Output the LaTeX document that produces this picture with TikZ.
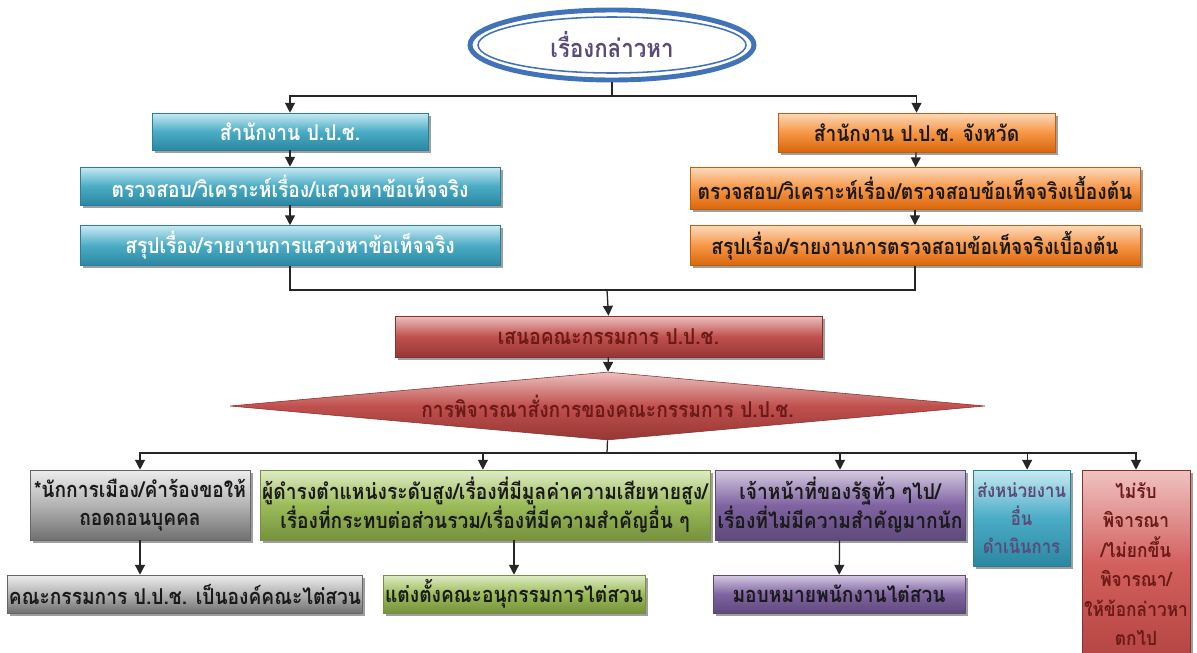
\documentclass[tikz,border=0pt]{standalone}
\usepackage{fontspec}
\newfontfamily\thai[Script=Thai, FakeStretch=0.88]{Loma}
\usetikzlibrary{arrows.meta,shapes.geometric,shadows}
\newdimen\px \px=0.025cm
\definecolor{ellblue}{HTML}{4272B8}
\definecolor{elltext}{HTML}{5A4A78}
\definecolor{cyT}{HTML}{C8EAF3}
\definecolor{cyM}{HTML}{4BACC6}
\definecolor{cyB}{HTML}{2B87A2}
\definecolor{cyD}{HTML}{2A7F98}
\definecolor{orT}{HTML}{FCD9BA}
\definecolor{orM}{HTML}{F79646}
\definecolor{orB}{HTML}{D9660A}
\definecolor{orD}{HTML}{C0600E}
\definecolor{rdT}{HTML}{EBC0BF}
\definecolor{rdM}{HTML}{C0504D}
\definecolor{rdB}{HTML}{963734}
\definecolor{rdD}{HTML}{8A2F2D}
\definecolor{gyT}{HTML}{EDEDED}
\definecolor{gyM}{HTML}{B3B3B3}
\definecolor{gyB}{HTML}{707070}
\definecolor{gnT}{HTML}{E0ECC6}
\definecolor{gnM}{HTML}{9BBB59}
\definecolor{gnB}{HTML}{76923C}
\definecolor{puT}{HTML}{D5CAE2}
\definecolor{puM}{HTML}{8064A2}
\definecolor{puB}{HTML}{5F497A}
\definecolor{lrT}{HTML}{EFC3C2}
\definecolor{lrM}{HTML}{D2605D}
\definecolor{lrB}{HTML}{B54542}
\definecolor{dtext}{HTML}{1A1A1A}
\definecolor{rtext}{HTML}{6B1A18}
\tikzset{
  thaifont/.style={font=\thai\bfseries\fontsize{15.5}{19.5}\selectfont},
  base/.style={rectangle, inner sep=1pt, align=center, thaifont, text=dtext,
    drop shadow={shadow xshift=1.8pt, shadow yshift=-2.1pt, fill=black!75}},
  cyanbox/.style={base, top color=cyT, bottom color=cyB, middle color=cyM, draw=cyD, text=white},
  orangebox/.style={base, top color=orT, bottom color=orB, middle color=orM, draw=orD},
  redbox/.style={base, top color=rdT, bottom color=rdB, middle color=rdM, draw=rdD, text=rtext},
  graybox/.style={base, top color=gyT, bottom color=gyB, middle color=gyM, draw=black!60},
  greenbox/.style={base, top color=gnT, bottom color=gnB, middle color=gnM, draw=gnB},
  purplebox/.style={base, top color=puT, bottom color=puB, middle color=puM, draw=puB},
  cyanbox2/.style={base, top color=cyT, bottom color=cyB, middle color=cyM, draw=cyD, text=elltext},
  lredbox/.style={base, top color=lrT, bottom color=lrB, middle color=lrM, draw=rdD, text=rtext},
  conn/.style={draw=black!85, line width=0.9pt},
  arr/.style={conn, -{Triangle[width=7pt,length=7pt]}},
}
\begin{document}
\begin{tikzpicture}[x=0.025cm, y=-0.025cm]
\useasboundingbox[fill=white] (0,0) rectangle (1197,652);
% top ellipse
\node[ellipse, draw=ellblue, line width=3.5pt, fill=white, minimum width=284\px, minimum height=70\px,
      font=\thai\bfseries\fontsize{18}{22}\selectfont, text=elltext] (top) at (612,45) {เรื่องกล่าวหา};
\draw[ellblue, line width=1.1pt] (top.center) ellipse [x radius=134\px, y radius=28\px];
% left column
\node[cyanbox, minimum width=276\px, minimum height=37\px] (l1) at (290,131.5) {สำนักงาน ป.ป.ช.};
\node[cyanbox, minimum width=420\px, minimum height=38\px] (l2) at (290,186) {ตรวจสอบ/วิเคราะห์เรื่อง/แสวงหาข้อเท็จจริง};
\node[cyanbox, minimum width=420\px, minimum height=40\px] (l3) at (290,245.5) {สรุปเรื่อง/รายงานการแสวงหาข้อเท็จจริง};
% right column
\node[orangebox, minimum width=277\px, minimum height=39\px] (r1) at (916.5,132.5) {สำนักงาน ป.ป.ช. จังหวัด};
\node[orangebox, minimum width=450\px, minimum height=42\px] (r2) at (915,188.5) {ตรวจสอบ/วิเคราะห์เรื่อง/ตรวจสอบข้อเท็จจริงเบื้องต้น};
\node[orangebox, minimum width=450\px, minimum height=40\px] (r3) at (915,245.5) {สรุปเรื่อง/รายงานการตรวจสอบข้อเท็จจริงเบื้องต้น};
% middle
\node[redbox, minimum width=427\px, minimum height=41\px] (m) at (608.5,336.5) {เสนอคณะกรรมการ ป.ป.ช.};
\node[diamond, aspect=11.1, top color=rdT, bottom color=rdB, middle color=rdM, draw=rdD,
      minimum width=755\px, minimum height=68\px, inner sep=0pt, text=rtext, thaifont] (d) at (607.5,406) {การพิจารณาสั่งการของคณะกรรมการ ป.ป.ช.};
% bottom row
\node[graybox, minimum width=220\px, minimum height=70\px] (b1) at (140,505) {*นักการเมือง/คำร้องขอให้\\ถอดถอนบุคคล};
\node[greenbox, minimum width=450\px, minimum height=70\px] (b2) at (485,505) {ผู้ดำรงตำแหน่งระดับสูง/เรื่องที่มีมูลค่าความเสียหายสูง/\\เรื่องที่กระทบต่อส่วนรวม/เรื่องที่มีความสำคัญอื่น ๆ};
\node[purplebox, minimum width=250\px, minimum height=70\px] (b3) at (840,505) {เจ้าหน้าที่ของรัฐทั่ว ๆไป/\\เรื่องที่ไม่มีความสำคัญมากนัก};
\node[cyanbox2, minimum width=97\px, minimum height=96\px, font=\thai\bfseries\fontsize{13.5}{20}\selectfont] (b4) at (1021.5,518) {ส่งหน่วยงาน\\อื่น\\ดำเนินการ};
\node[lredbox, minimum width=108\px, minimum height=188\px, font=\thai\bfseries\fontsize{14}{21}\selectfont] (b5) at (1136,564) {ไม่รับ\\พิจารณา\\/ไม่ยกขึ้น\\พิจารณา/\\ให้ข้อกล่าวหา\\ตกไป};
\node[graybox, minimum width=350\px, minimum height=38\px] (c1) at (185,594) {คณะกรรมการ ป.ป.ช. เป็นองค์คณะไต่สวน};
\node[greenbox, minimum width=262\px, minimum height=38\px] (c2) at (514,594) {แต่งตั้งคณะอนุกรรมการไต่สวน};
\node[purplebox, minimum width=252\px, minimum height=38\px] (c3) at (839,594) {มอบหมายพนักงานไต่สวน};
% junctions
\coordinate (j1) at (612,96);
\coordinate (j2) at (607,290);
\coordinate (j3) at (607,453);
% connectors
\draw[conn] (top.south) -- (j1);
\draw[arr] (j1) -| (l1.north);
\draw[arr] (j1) -| (r1.north);
\draw[arr] (l1) -- (l2);
\draw[arr] (l2) -- (l3);
\draw[arr] (r1) -- (r2);
\draw[arr] (r2) -- (r3);
\draw[conn] (l3.south) |- (j2);
\draw[conn] (r3.south) |- (j2);
\draw[arr] (j2) -- (m.north);
\draw[arr] (m) -- (d);
\draw[conn] (d.south) -- (j3);
\draw[arr] (j3) -| (b1.north);
\draw[arr] (j3) -| ([xshift=-1.5pt]b2.north);
\draw[arr] (j3) -| (b3.north);
\draw[arr] (j3) -| ([xshift=4pt]b4.north);
\draw[arr] (j3) -| (b5.north);
\draw[arr] (b1.south) -- (b1.south |- c1.north);
\draw[arr] (c2.north |- b2.south) -- (c2.north);
\draw[arr] (b3) -- (c3);
\end{tikzpicture}
\end{document}
